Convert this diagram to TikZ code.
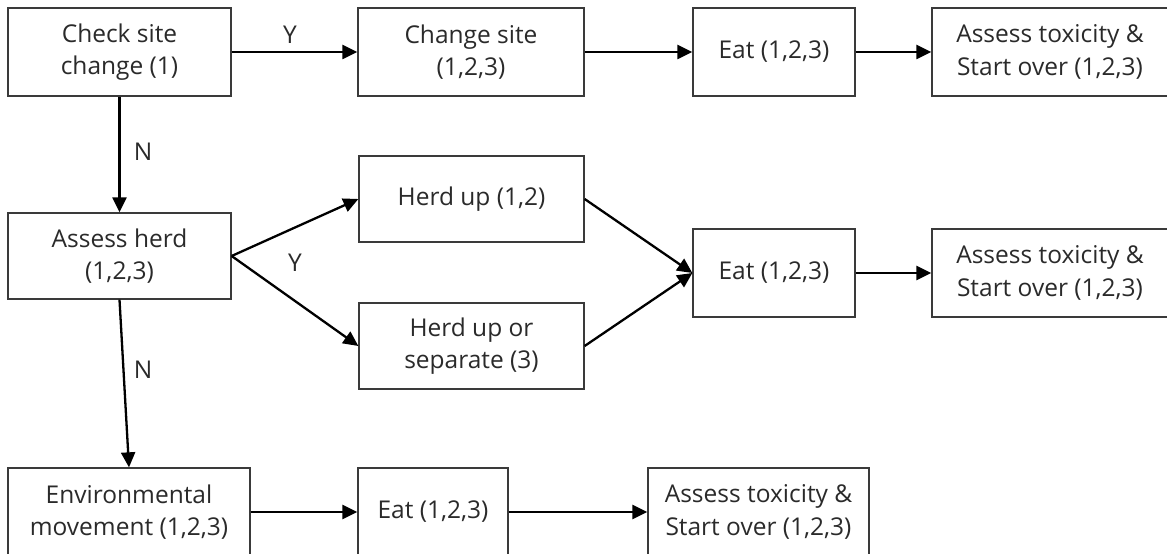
\documentclass[tikz,border=0pt]{standalone}
\usepackage{fontspec}
\setmainfont{Open Sans}
\usetikzlibrary{arrows.meta}
\definecolor{boxgray}{HTML}{3A3A3A}
\definecolor{textgray}{HTML}{2A2A2A}
\begin{document}
\begin{tikzpicture}[x=1pt,y=1pt,
  box/.style={draw=boxgray, line width=1.3pt, inner sep=0pt, align=center,
    font=\fontsize{24.5}{32.5}\selectfont, text=textgray},
  arr/.style={line width=2.3pt, -{Triangle[length=15pt,width=14pt]}},
  lab/.style={font=\fontsize{24.5}{32.5}\selectfont, text=textgray, inner sep=0pt}]
\useasboundingbox (0,0) rectangle (1167,554);
\clip (0,0) rectangle (1167,554);
% row 1
\node[box, minimum width=223pt, minimum height=88pt] (cs) at (119.5,502) {Check site\\change (1)};
\node[box, minimum width=226pt, minimum height=88pt] (chs) at (471,502) {Change site\\(1,2,3)};
\node[box, minimum width=162pt, minimum height=88pt] (eat1) at (774,502) {Eat (1,2,3)};
\node[box, minimum width=236pt, minimum height=88pt] (at1) at (1050,502) {Assess toxicity \&\\Start over (1,2,3)};
% row 2
\node[box, minimum width=223pt, minimum height=86pt] (ah) at (119.5,298) {Assess herd\\(1,2,3)};
\node[box, minimum width=225pt, minimum height=86pt] (hu) at (471.5,355) {Herd up (1,2)};
\node[box, minimum width=225pt, minimum height=86pt] (hs) at (471.5,208) {Herd up or\\separate (3)};
\node[box, minimum width=162pt, minimum height=88pt] (eat2) at (774,281) {Eat (1,2,3)};
\node[box, minimum width=236pt, minimum height=88pt] (at2) at (1050,281) {Assess toxicity \&\\Start over (1,2,3)};
% row 3
\node[box, minimum width=242pt, minimum height=88pt] (env) at (129,42) {Environmental\\movement (1,2,3)};
\node[box, minimum width=150pt, minimum height=88pt] (eat3) at (433,42) {Eat (1,2,3)};
\node[box, minimum width=221pt, minimum height=88pt] (at3) at (758.5,42) {Assess toxicity \&\\Start over (1,2,3)};
% connectors
\draw[arr] (cs) -- (chs);
\draw[arr] (chs) -- (eat1);
\draw[arr] (eat1) -- (at1);
\draw[arr] (cs) -- (ah);
\draw[arr] (ah.east) -- (hu.west);
\draw[arr] (ah.east) -- (hs.west);
\draw[arr] (hu.east) -- (eat2.west);
\draw[arr] (hs.east) -- (eat2.west);
\draw[arr] (eat2) -- (at2);
\draw[arr] (ah.south) -- (env.north);
\draw[arr] (env) -- (eat3);
\draw[arr] (eat3) -- (at3);
% labels
\node[lab] (y1) at (290,519) {Y};
\node[lab] (n1) at (143,402) {N};
\node[lab] (y2) at (295,291) {Y};
\node[lab] (n2) at (143,184) {N};
\end{tikzpicture}
\end{document}
